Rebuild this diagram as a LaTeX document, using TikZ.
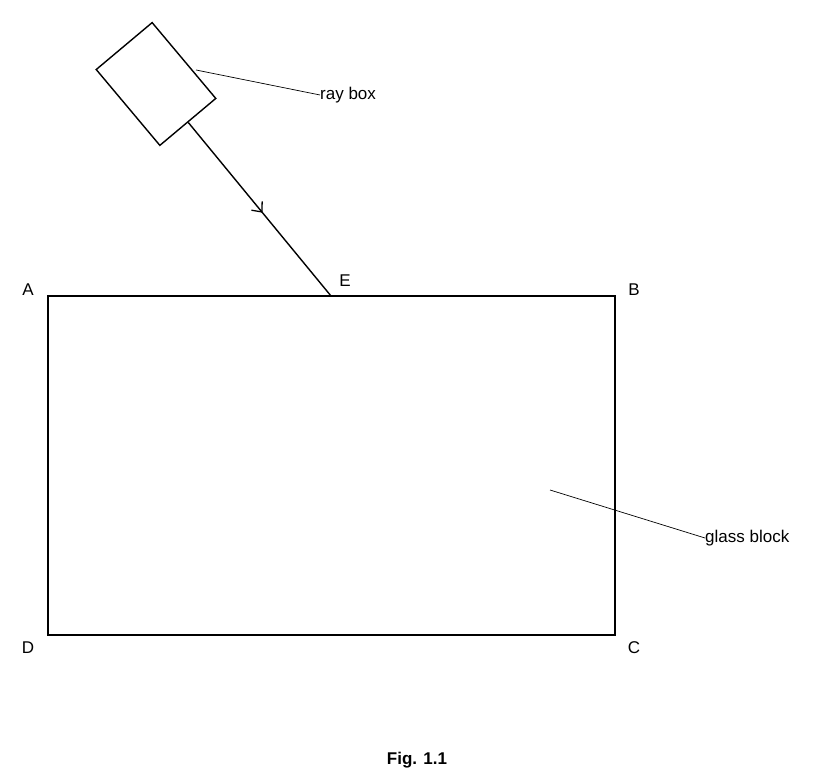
\documentclass[tikz,border=0pt]{standalone}
\usepackage{fontspec}
\setmainfont{Liberation Sans}
\usetikzlibrary{arrows.meta,positioning,decorations.markings}

\begin{document}
\begin{tikzpicture}[
			x=1pt, y=1pt,
			lbl/.style={font=\fontsize{17}{20}\selectfont, inner sep=0pt},
			edge/.style={draw, line width=1.4pt},
			leader/.style={draw, line width=0.7pt},
			ray/.style={draw, line width=1.4pt, decoration={markings, mark=at position 0.52 with {\arrow{Straight Barb[length=8pt,width=14pt,line width=1.3pt]}}}, postaction={decorate}}
		]
		\useasboundingbox (0,0) rectangle (834,776);
		% Glass block corners
		\coordinate (A) at (48,480);
		\coordinate (B) at (615,480);
		\coordinate (C) at (615,141);
		\coordinate (D) at (48,141);
		\coordinate (E) at (331,480);
		\draw [edge] (A) -- (B) -- (C) -- (D) -- cycle;

		% Corner labels
		\node (labA) [lbl] at (28,486) {A};
		\node (labB) [lbl] at (634,486) {B};
		\node (labE) [lbl] at (345,495) {E};
		\node (labD) [lbl] at (28,128) {D};
		\node (labC) [lbl] at (634,128) {C};

		% Ray box
		\node (raybox) [draw, line width=1.4pt, rotate=40, minimum width=73pt, minimum height=99pt, inner sep=0pt] at (156,692) {};
		\draw [ray] (raybox.south) -- (E);

		% Labels with leader lines
		\node (rayboxlbl) [lbl, anchor=west] at (320,681) {ray box};
		\coordinate (rb) at (196,706);
		\draw [leader] (rb) -- (rayboxlbl.west);
		\node (glasslbl) [lbl, anchor=west] at (705,238) {glass block};
		\coordinate (gb) at (550,286);
		\draw [leader] (gb) -- (glasslbl.west);

		% Caption
		\node (caption) [lbl, font=\fontsize{17}{20}\selectfont\bfseries] at (417,16) {Fig. 1.1};
	\end{tikzpicture}
\end{document}
